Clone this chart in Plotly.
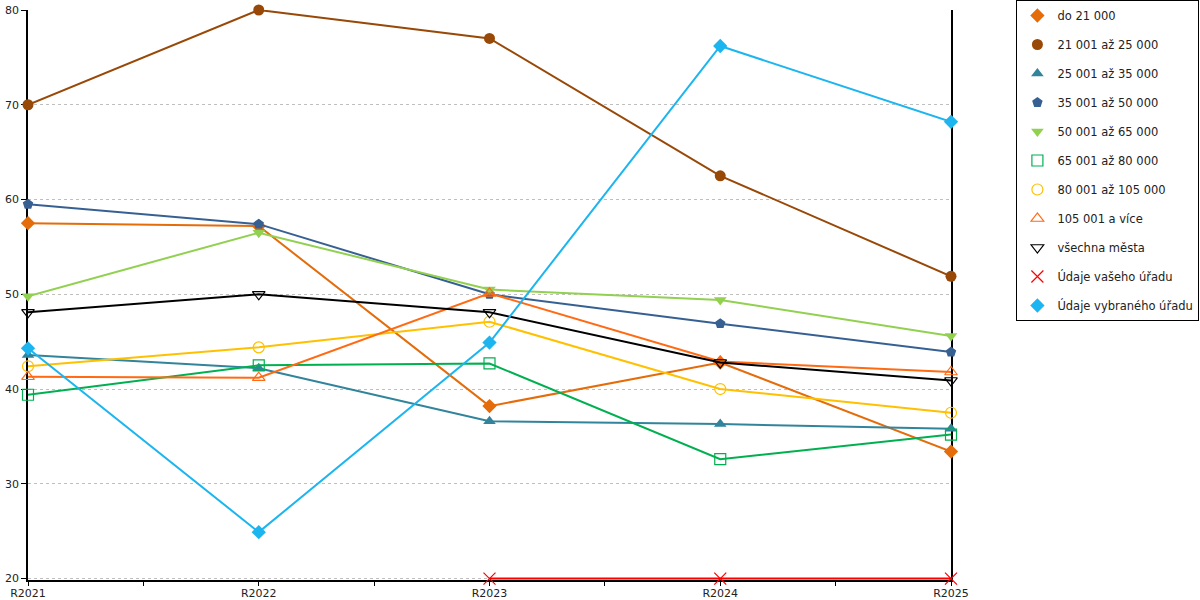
import plotly.graph_objects as go

years = ["R2021", "R2022", "R2023", "R2024", "R2025"]

do_21000 = [57.5, 57.2, 38.2, 42.8, 33.4]
od_21001 = [70.0, 80.0, 77.0, 62.5, 51.9]
od_25001 = [43.6, 42.2, 36.6, 36.3, 35.8]
od_35001 = [59.5, 57.4, 50.0, 46.9, 43.9]
od_50001 = [49.8, 56.5, 50.5, 49.4, 45.6]
od_65001 = [39.4, 42.5, 42.7, 32.6, 35.2]
od_80001 = [42.4, 44.4, 47.1, 40.0, 37.5]
od_105001 = [41.3, 41.2, 50.1, 42.9, 41.8]
vsechna = [48.1, 50.0, 48.1, 42.8, 40.9]
vas_urad = [None, None, 20.0, 20.0, 20.0]
vybrany_urad = [44.3, 24.9, 44.9, 76.2, 68.2]

x_idx = list(range(len(years)))

# name, values, color, marker symbol, open marker?
series = [
    ("do 21 000", do_21000, "#E46C0A", "diamond", False),
    ("21 001 až 25 000", od_21001, "#984807", "circle", False),
    ("25 001 až 35 000", od_25001, "#31849B", "triangle-up", False),
    ("35 001 až 50 000", od_35001, "#376092", "pentagon", False),
    ("50 001 až 65 000", od_50001, "#92D050", "triangle-down", False),
    ("65 001 až 80 000", od_65001, "#00B050", "square-open", True),
    ("80 001 až 105 000", od_80001, "#FFC000", "circle-open", True),
    ("105 001 a více", od_105001, "#FF6A13", "triangle-up-open", True),
    ("všechna města", vsechna, "#000000", "triangle-down-open", True),
    ("Údaje vašeho úřadu", vas_urad, "#FF0000", "x-thin-open", True),
    ("Údaje vybraného úřadu", vybrany_urad, "#1CB5EF", "diamond", False),
]

fig = go.Figure()

for i, (name, vals, color, symbol, is_open) in enumerate(series):
    # line part (no legend entry)
    fig.add_trace(go.Scatter(
        x=x_idx, y=vals, mode="lines", name=name,
        line=dict(color=color, width=2),
        showlegend=False, legendgroup="g%d" % i,
        cliponaxis=False, hoverinfo="skip"))
    # markers part (legend shows markers only)
    size = 11
    if symbol.startswith("x"):
        size = 12
    fig.add_trace(go.Scatter(
        x=x_idx, y=vals, mode="markers", name=name,
        marker=dict(symbol=symbol, size=size, color=color,
                    line=dict(color=color, width=1.2 if is_open else 0)),
        legendgroup="g%d" % i, cliponaxis=False))

fig.update_layout(
    width=1200, height=600,
    margin=dict(l=28, r=249, t=10, b=20, autoexpand=False),
    plot_bgcolor="white", paper_bgcolor="white",
    font=dict(family="DejaVu Sans", size=11, color="#222222"),
    legend=dict(
        xref="container", yref="container",
        x=0.847, y=1.0, xanchor="left", yanchor="top",
        bordercolor="black", borderwidth=1, bgcolor="white",
        font=dict(family="DejaVu Sans", size=11.5, color="#222222"),
        tracegroupgap=10, traceorder="grouped",
        itemclick=False, maxheight=600,
    ),
)

fig.update_xaxes(
    range=[0, len(years) - 1], automargin=False,
    tickmode="array", tickvals=x_idx, ticktext=years,
    showgrid=False, zeroline=False,
    showline=True, linecolor="black", linewidth=1.5,
    layer="below traces",
    ticks="outside", ticklen=4, tickcolor="black",
    ticklabelstandoff=-2,
    minor=dict(tickmode="linear", tick0=0, dtick=0.5, ticks="outside",
               ticklen=4, tickcolor="black", showgrid=False),
    tickfont=dict(size=11, color="#222222"),
)

# bottom of range a hair below 20 so the line lying on 20 is not clipped
fig.update_yaxes(
    range=[19.85, 80], dtick=10, tick0=20, automargin=False,
    showgrid=True, gridcolor="#BFBFBF", griddash="dot", gridwidth=1,
    zeroline=False,
    showline=True, linecolor="black", linewidth=1.5, mirror=True,
    layer="below traces",
    ticks="outside", ticklen=5, tickcolor="black",
    tickfont=dict(size=11, color="#222222"),
)

# page body has a default 8px margin; drop it so the figure sits at 0,0
fig.write_html("out.html", config={"displayModeBar": False},
               post_script="document.body.style.margin='0';")
